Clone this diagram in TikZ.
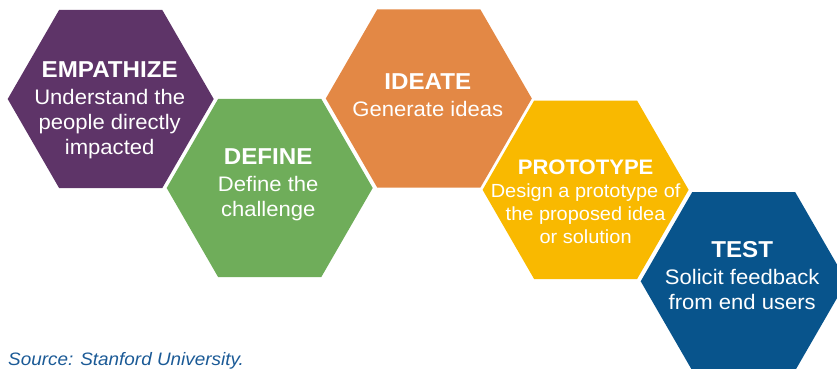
\documentclass[tikz,border=0pt]{standalone}
\usepackage{fontspec}
\setmainfont{Liberation Sans}[FakeStretch=1.05]
\usetikzlibrary{shapes.geometric, positioning, calc}

\definecolor{empcol}{RGB}{94,52,104}
\definecolor{defcol}{RGB}{111,173,90}
\definecolor{ideacol}{RGB}{227,136,69}
\definecolor{protocol}{RGB}{249,185,0}
\definecolor{testcol}{RGB}{8,84,140}
\definecolor{srccol}{RGB}{27,90,150}

\tikzset{
	hexa/.style={regular polygon, regular polygon sides=6, minimum size=206pt, inner sep=0pt, draw=none},
	steptext/.style={text=white, align=center, anchor=north, inner sep=0pt, font=\fontsize{21}{25}\selectfont},
	smalltext/.style={steptext, font=\fontsize{19}{23}\selectfont}
}
\newcommand{\steptitle}[1]{{\fontsize{23}{25}\selectfont\bfseries #1}}
\newcommand{\smalltitle}[1]{{\fontsize{21}{23}\selectfont\bfseries #1}}

\begin{document}
\begin{tikzpicture}[x=1pt,y=1pt,yscale=-1,xscale=1]
	\useasboundingbox (0,0) rectangle (837,368);
	
	%Shape: Hexagons
	\node [hexa, fill=empcol] (empathize) at (110.7,99) {};
	\node [hexa, fill=defcol] (define) at (269.7,188) {};
	\node [hexa, fill=ideacol] (ideate) at (428.8,98.5) {};
	\node [hexa, fill=protocol] (prototype) at (585.6,189.8) {};
	\node [hexa, fill=testcol] (test) at (743.7,281.3) {};
	
	% Text Node
	\node [steptext] (empathizetext) at ($(empathize.center)+(-1,-38)$) {\steptitle{EMPATHIZE}\\[2pt]Understand the\\people directly\\impacted};
	% Text Node
	\node [steptext] (definetext) at ($(define.center)+(-1.5,-40)$) {\steptitle{DEFINE}\\[2pt]Define the\\challenge};
	% Text Node
	\node [steptext] (ideatetext) at ($(ideate.center)+(-1,-25)$) {\steptitle{IDEATE}\\[2pt]Generate ideas};
	% Text Node
	\node [smalltext] (prototypetext) at ($(prototype.center)+(0,-30)$) {\smalltitle{PROTOTYPE}\\Design a prototype of\\the proposed idea\\or solution};
	% Text Node
	\node [steptext] (testtext) at ($(test.center)+(-1.5,-40)$) {\steptitle{TEST}\\[2pt]Solicit feedback\\from end users};
	
	% Text Node
	\node [anchor=base west, inner sep=0pt, text=srccol, font=\fontsize{18}{22}\selectfont\itshape] (source) at (8,365) {Source: Stanford University.};
\end{tikzpicture}
\end{document}
